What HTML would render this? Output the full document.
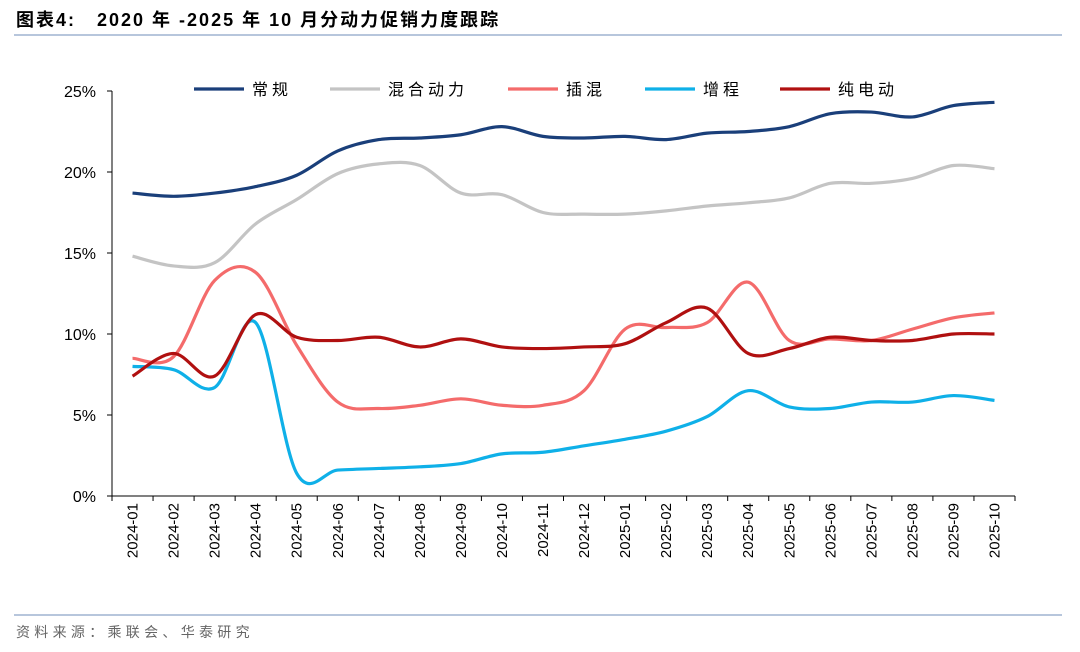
<!DOCTYPE html>
<html><head><meta charset="utf-8"><style>
body{margin:0;background:#fff;width:1080px;height:647px;overflow:hidden;font-family:"Liberation Sans","Noto Sans CJK SC",sans-serif}
</style></head><body>
<svg id="c" width="1080" height="647" xmlns="http://www.w3.org/2000/svg">
<text x="16" y="26" font-size="18" font-weight="bold" fill="#000" letter-spacing="2" xml:space="preserve">图表4:   2020 年 -2025 年 10 月分动力促销力度跟踪</text>
<line x1="14" y1="35" x2="1062" y2="35" stroke="#9fb4d0" stroke-width="1.5"/>
<line x1="14" y1="615" x2="1062" y2="615" stroke="#9fb4d0" stroke-width="1.5"/>
<text x="16" y="637" font-size="14" fill="#666" letter-spacing="4.3">资料来源：乘联会、华泰研究</text>
<g id="axes"></g><g id="series"></g><g id="legend"></g>
</svg>
<script>
const categories=["2024-01","2024-02","2024-03","2024-04","2024-05","2024-06","2024-07","2024-08","2024-09","2024-10","2024-11","2024-12","2025-01","2025-02","2025-03","2025-04","2025-05","2025-06","2025-07","2025-08","2025-09","2025-10"];
const seriesNames=["常规","混合动力","插混","增程","纯电动"];
const conventional=[18.7,18.5,18.7,19.1,19.8,21.3,22.0,22.1,22.3,22.8,22.2,22.1,22.2,22.0,22.4,22.5,22.8,23.6,23.7,23.4,24.1,24.3];
const hybrid=[14.8,14.2,14.4,16.8,18.3,19.9,20.5,20.4,18.7,18.6,17.5,17.4,17.4,17.6,17.9,18.1,18.4,19.3,19.3,19.6,20.4,20.2];
const phev=[8.5,8.6,13.3,13.8,9.3,5.8,5.4,5.6,6.0,5.6,5.6,6.5,10.3,10.4,10.7,13.2,9.6,9.7,9.6,10.3,11.0,11.3];
const erev=[8.0,7.8,6.7,10.7,1.4,1.6,1.7,1.8,2.0,2.6,2.7,3.1,3.5,4.0,4.9,6.5,5.5,5.4,5.8,5.8,6.2,5.9];
const bev=[7.4,8.8,7.4,11.2,9.8,9.6,9.8,9.2,9.7,9.2,9.1,9.2,9.4,10.7,11.6,8.8,9.1,9.8,9.6,9.6,10.0,10.0];
const yTicks=[0,5,10,15,20,25];
const NS="http://www.w3.org/2000/svg";
const x0=112,x1=1015,yTop=91,yBot=496;
const xs=i=>x0+(x1-x0)/categories.length*(i+0.5);
const ys=v=>yBot-(yBot-yTop)*v/25;
function mk(t,a,p){const e=document.createElementNS(NS,t);for(const k in a)e.setAttribute(k,a[k]);p.appendChild(e);return e;}
const ax=document.getElementById('axes');
let yl=mk('line',{x1:x0,y1:yTop,x2:x0,y2:yBot,stroke:'#000','stroke-width':1},ax);


let xl=mk('line',{x1:x0,y1:yBot,x2:x1,y2:yBot,stroke:'#000','stroke-width':1},ax);


yTicks.forEach(v=>{
  mk('line',{x1:x0-5,y1:ys(v),x2:x0,y2:ys(v),stroke:'#000'},ax);
  const t=mk('text',{x:x0-16,y:ys(v)+6,'text-anchor':'end','font-size':16,fill:'#000'},ax);
  t.textContent=v+'%';
  
  
});
categories.forEach((c,i)=>{
  const xb=x0+(x1-x0)/categories.length*i;
  mk('line',{x1:xb,y1:yBot,x2:xb,y2:yBot+5,stroke:'#000'},ax);
  const x=xs(i);
  const t=mk('text',{x:0,y:0,transform:`translate(${x+5},503) rotate(-90)`,'text-anchor':'end','font-size':15,fill:'#000'},ax);
  t.textContent=c;
  
  
});
mk('line',{x1:x1,y1:yBot,x2:x1,y2:yBot+5,stroke:'#000'},ax);
function smooth(vals){
  const p=vals.map((v,i)=>[xs(i),ys(v)]);
  let d=`M${p[0][0]},${p[0][1]}`;
  for(let i=0;i<p.length-1;i++){
    const a=p[i-1]||p[i],b=p[i],c=p[i+1],e=p[i+2]||c;
    const c1=[b[0]+(c[0]-a[0])/6,b[1]+(c[1]-a[1])/6],c2=[c[0]-(e[0]-b[0])/6,c[1]-(e[1]-b[1])/6];
    d+=`C${c1[0]},${c1[1]} ${c2[0]},${c2[1]} ${c[0]},${c[1]}`;
  }
  return d;
}
const data=[conventional,hybrid,phev,erev,bev];
const colors=["#1a3f7a","#c4c4c4","#f46b6b","#0fb0e8","#b01010"];
const names=["line-conventional","line-hybrid","line-phev","line-erev","line-bev"];
const sg=document.getElementById('series');
data.forEach((d,k)=>{
  const p=mk('path',{d:smooth(d),fill:'none',stroke:colors[k],'stroke-width':3.2,'stroke-linejoin':'round'},sg);
  
  
});
const lg=document.getElementById('legend');
const lx=[194,330,508,645,780];
seriesNames.forEach((n,k)=>{
  const g=mk('g',{},lg);
  
  
  mk('line',{x1:lx[k],y1:89,x2:lx[k]+50,y2:89,stroke:colors[k],'stroke-width':3.2},g);
  const t=mk('text',{x:lx[k]+58,y:95,'font-size':16,fill:'#000','letter-spacing':4},g);
  t.textContent=n;
});
</script>
</body></html>
